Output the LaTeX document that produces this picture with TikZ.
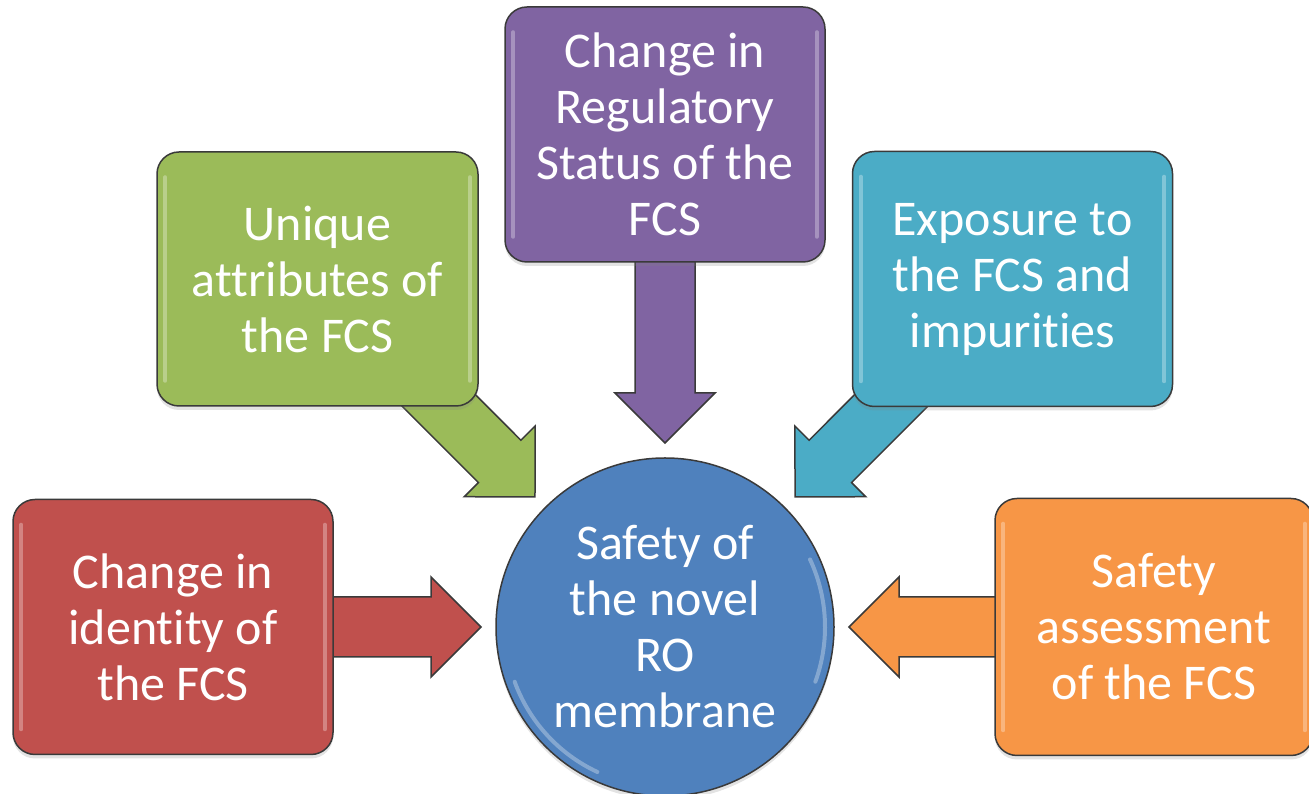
\documentclass[tikz,border=0pt]{standalone}
\usepackage{fontspec}
\setmainfont{Carlito}[Ligatures={NoCommon,NoContextual,NoRare}]
\usetikzlibrary{calc,shadows,backgrounds}
\definecolor{edge}{HTML}{3A3A3A}
\definecolor{cred}{HTML}{C0504D}
\definecolor{cgreen}{HTML}{9BBB59}
\definecolor{cpurple}{HTML}{8064A2}
\definecolor{cteal}{HTML}{4BACC6}
\definecolor{corange}{HTML}{F79646}
\definecolor{cblue}{HTML}{4F81BD}
\newcommand\blockarr[3]{% #1 fill, #2 source node, #3 tip coordinate
  \coordinate (#3-b) at ($(#3)!50pt!(#2.center)$);
  \filldraw[arrbody, fill=#1]
    ($(#2.center)!30pt!90:(#3)$) -- ($(#3-b)!30pt!90:(#3)$) -- ($(#3-b)!50pt!90:(#3)$)
    -- (#3) -- ($(#3-b)!50pt!-90:(#3)$) -- ($(#3-b)!30pt!-90:(#3)$)
    -- ($(#2.center)!30pt!-90:(#3)$) -- cycle;
}
\newcommand\boxshine[1]{%
  \draw[shine] ([xshift=9pt,yshift=26pt]#1.south west) -- ([xshift=9pt,yshift=-26pt]#1.north west);
  \draw[shine] ([xshift=-9pt,yshift=26pt]#1.south east) -- ([xshift=-9pt,yshift=-26pt]#1.north east);
}
\begin{document}
\begin{tikzpicture}[x=1pt,y=1pt,
  box/.style={draw=edge, line width=1.5pt, rounded corners=22pt,
    minimum width=320pt, minimum height=255pt, inner sep=0pt,
    text=white, align=center, font=\fontsize{50}{56}\selectfont,
    drop shadow={shadow xshift=0pt, shadow yshift=-4pt, opacity=0.22}},
  hub/.style={circle, draw=edge, line width=1.5pt, minimum size=338pt, inner sep=0pt,
    fill=cblue, text=white, align=center, font=\fontsize{50}{56}\selectfont,
    drop shadow={shadow xshift=0pt, shadow yshift=-4pt, opacity=0.22}},
  arrbody/.style={draw=edge, line width=1.5pt, line join=miter},
  shine/.style={white, opacity=0.3, line width=4pt, line cap=round}
]
\useasboundingbox (0,0) rectangle (1309,794);
\clip (0,0) rectangle (1309,794);

\node[hub] (hub) at (665,167) {Safety of\\the novel\\RO\\membrane};
\draw[shine] (hub.center) ++(200:160) arc[start angle=200, end angle=245, radius=160];
\draw[shine] (hub.center) ++(-20:160) arc[start angle=-20, end angle=25, radius=160];

\node[box, fill=cred] (red) at (173,167) {Change in\\identity of\\the FCS};
\node[box, fill=cgreen, minimum width=321pt, minimum height=254pt] (green) at (317.5,515) {Unique\\attributes of\\the FCS};
\node[box, fill=cpurple] (purple) at (665,659.5) {Change in\\Regulatory\\Status of the\\FCS};
\node[box, fill=cteal] (teal) at (1012.5,515) {Exposure to\\the FCS and\\impurities};
\node[box, fill=corange, minimum width=318pt, minimum height=257pt] (orange) at (1154,167) {Safety\\assessment\\of the FCS};

\foreach \b in {red,green,purple,teal,orange} {\boxshine{\b}}

\begin{scope}[on background layer]
  \foreach \b/\c in {red/cred, green/cgreen, purple/cpurple, teal/cteal, orange/corange} {
    \coordinate (\b-tip) at ($(hub.center)!184pt!(\b.center)$);
    \blockarr{\c}{\b}{\b-tip}
  }
\end{scope}
\end{tikzpicture}
\end{document}
